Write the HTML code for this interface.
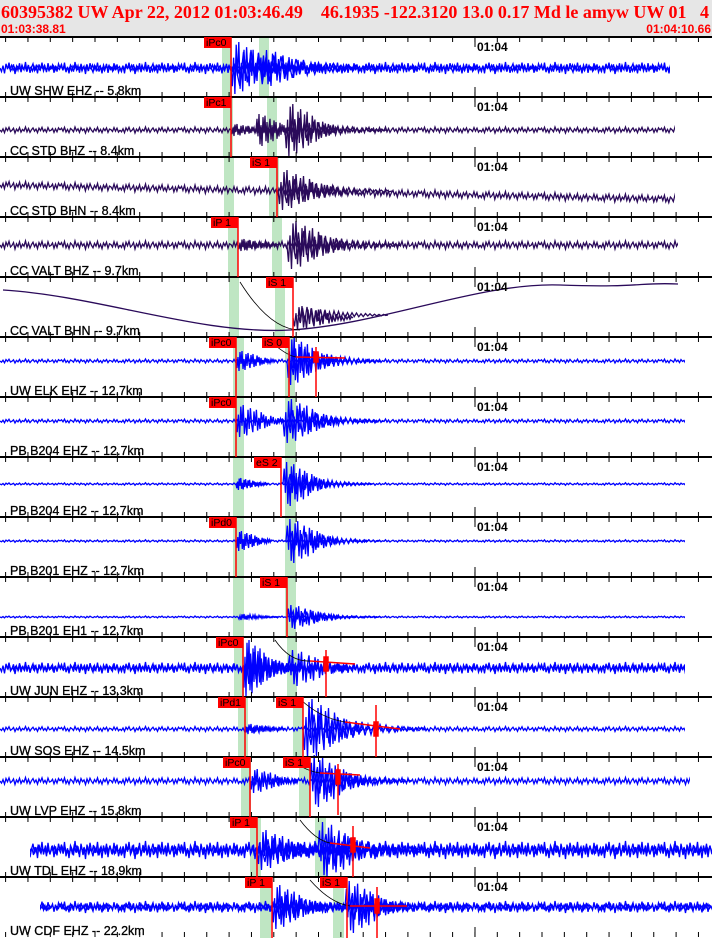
<!DOCTYPE html>
<html><head><meta charset="utf-8"><style>
html,body{margin:0;padding:0;background:#fff;}
body{width:712px;height:938px;overflow:hidden;}
svg{display:block;}
.t{font-family:"Liberation Sans",sans-serif;font-size:12px;font-weight:bold;}
.l{font-family:"Liberation Sans",sans-serif;font-size:12.5px;fill:#000;stroke:#000;stroke-width:0.3;}
.p{font-family:"Liberation Sans",sans-serif;font-size:10.5px;}
</style></head><body>
<svg width="712" height="938" xmlns="http://www.w3.org/2000/svg" xmlns:xlink="http://www.w3.org/1999/xlink">
<defs>
<path id="n" vector-effect="non-scaling-stroke" fill="none" d="M0,0 L1.5,.6 L3,-.4 L4.5,.9 L6,-.7 L7.5,.2 L9,-.9 L10.5,.5 L12,.1 L13.5,-.6 L15,1 L16.5,-.3 L18,.4 L19.5,-.8 L21,.7 L22.5,-.2 L24,.3 L25.5,-1 L27,.6 L28.5,-.5 L30,.8 L31.5,-.1 L33,-.7 L34.5,.4 L36,-.3 L37.5,.9 L39,-.6 L40.5,.2 L42,-.9 L43.5,.5 L45,-.2 L46.5,.7 L48,-.8 L49.5,.3 L51,.1 L52.5,-.5 L54,.8 L55.5,-.4 L57,.6 L58.5,-.7 L60,0"/>
<g id="row">
<use href="#n" xlink:href="#n"/>
<use href="#n" xlink:href="#n" transform="translate(60,0) scale(1,-1)"/>
<use href="#n" xlink:href="#n" transform="translate(120,0)"/>
<use href="#n" xlink:href="#n" transform="translate(180,0) scale(1,-1)"/>
<use href="#n" xlink:href="#n" transform="translate(240,0)"/>
<use href="#n" xlink:href="#n" transform="translate(300,0) scale(1,-1)"/>
<use href="#n" xlink:href="#n" transform="translate(360,0)"/>
<use href="#n" xlink:href="#n" transform="translate(420,0) scale(1,-1)"/>
<use href="#n" xlink:href="#n" transform="translate(480,0)"/>
<use href="#n" xlink:href="#n" transform="translate(540,0) scale(1,-1)"/>
<use href="#n" xlink:href="#n" transform="translate(600,0)"/>
<use href="#n" xlink:href="#n" transform="translate(660,0) scale(1,-1)"/>
</g>
<path id="b" vector-effect="non-scaling-stroke" fill="none" d="M0,0 L1.5,-1 L3,.9 L4.5,-.8 L6,1 L7.5,-.7 L9,.85 L10.5,-.9 L12,.6 L13.5,-.75 L15,.7 L16.5,-.5 L18,.65 L19.5,-.6 L21,.4 L22.5,-.55 L24,.5 L25.5,-.35 L27,.45 L28.5,-.4 L30,.3 L31.5,-.35 L33,.3 L34.5,-.25 L36,.28 L37.5,-.2 L39,.25 L40.5,-.22 L42,.15 L43.5,-.2 L45,.18 L46.5,-.12 L48,.15 L49.5,-.13 L51,.1 L52.5,-.12 L54,.08 L55.5,-.1 L57,.08 L58.5,-.06 L60,0"/>
<path id="c" vector-effect="non-scaling-stroke" fill="none" d="M0,0 L1,.7 L2,-.4 L3,1 L4,-.9 L5,.3 L6,-1 L7,.8 L8,-.2 L9,.9 L10,-.7 L11,.5 L12,-.8 L13,.2 L14,.7 L15,-.6 L16,.3 L17,-.7 L18,.6 L19,-.2 L20,.5 L21,-.55 L22,.1 L23,-.4 L24,.45 L25,-.3 L26,.35 L27,-.1 L28,.3 L29,-.32 L30,.15 L31,-.25 L32,.2 L33,-.05 L34,.22 L35,-.18 L36,.1 L37,-.15 L38,.12 L39,-.1 L40,0"/>
<g id="tk" stroke="#000" fill="none">
<line x1="5.1" y1="2.5" x2="712" y2="2.5" stroke-width="5" stroke-dasharray="1 21.35"/>
<line x1="5.1" y1="57.5" x2="712" y2="57.5" stroke-width="5" stroke-dasharray="1 21.35"/>
<line x1="475" y1="0" x2="475" y2="10"/>
<line x1="475" y1="50" x2="475" y2="60"/>
</g>
</defs>

<rect x="0" y="0" width="712" height="37" fill="#e6e6e6"/>
<text x="1" y="18" font-family="Liberation Serif, serif" font-weight="bold" font-size="18" fill="#ff0000" xml:space="preserve">60395382 UW Apr 22, 2012 01:03:46.49    46.1935 -122.3120 13.0 0.17 Md le amyw UW 01   4</text>
<text x="1" y="33" class="t" fill="#ff0000">01:03:38.81</text>
<text x="711" y="33" class="t" fill="#ff0000" text-anchor="end">01:04:10.66</text>

<g fill="#bfe6c3">
<rect x="222" y="37" width="10" height="60"/><rect x="259" y="37" width="10" height="60"/>
<rect x="223" y="97" width="10" height="60"/><rect x="267" y="97" width="10" height="60"/>
<rect x="224" y="157" width="10" height="60"/><rect x="269" y="157" width="10" height="60"/>
<rect x="228" y="217" width="10" height="60"/><rect x="272" y="217" width="10" height="60"/>
<rect x="229" y="277" width="10" height="60"/><rect x="275" y="277" width="10" height="60"/>
<rect x="233" y="337" width="11" height="60"/><rect x="285" y="337" width="10" height="60"/>
<rect x="233" y="397" width="11" height="60"/><rect x="285" y="397" width="11" height="60"/>
<rect x="233" y="457" width="11" height="60"/><rect x="285" y="457" width="11" height="60"/>
<rect x="233" y="517" width="11" height="60"/><rect x="285" y="517" width="11" height="60"/>
<rect x="233" y="577" width="11" height="60"/><rect x="285" y="577" width="11" height="60"/>
<rect x="234" y="637" width="10" height="60"/><rect x="287" y="637" width="10" height="60"/>
<rect x="238" y="697" width="10" height="60"/><rect x="293" y="697" width="10" height="60"/>
<rect x="241" y="757" width="10" height="60"/><rect x="299" y="757" width="11" height="60"/>
<rect x="250" y="817" width="11" height="60"/><rect x="315" y="817" width="11" height="60"/>
<rect x="260" y="877" width="11" height="61"/><rect x="333" y="877" width="11" height="61"/>
</g>

<g stroke-width="1.3">
<g transform="translate(0,68)" stroke="#0000ff"><use href="#row" xlink:href="#row" transform="scale(1,6)"/><use href="#row" xlink:href="#row" transform="translate(7,0) scale(1,-3)"/><use href="#c" xlink:href="#c" transform="translate(231,0) scale(1.3,26)"/><use href="#b" xlink:href="#b" transform="translate(236,0) scale(2.5,-18)"/><use href="#c" xlink:href="#c" transform="translate(262,0) scale(1.5,-18)"/></g>
<g transform="translate(0,130)" stroke="#2a0a5a"><use href="#row" xlink:href="#row" transform="scale(1,3)"/><use href="#c" xlink:href="#c" transform="translate(231,0) scale(1,6)"/><use href="#c" xlink:href="#c" transform="translate(256,0) scale(1,-16)"/><use href="#c" xlink:href="#c" transform="translate(285,0) scale(1.3,26)"/><use href="#b" xlink:href="#b" transform="translate(290,0) scale(1.6,-12)"/></g>
<g transform="translate(0,185)" stroke="#2a0a5a"><use href="#row" xlink:href="#row" transform="rotate(1.2) scale(1,4)"/><use href="#c" xlink:href="#c" transform="translate(278,5) scale(1.5,20)"/><use href="#b" xlink:href="#b" transform="translate(284,6) scale(1.8,-12)"/></g>
<g transform="translate(0,245)" stroke="#2a0a5a"><use href="#row" xlink:href="#row" transform="scale(1,4)"/><use href="#c" xlink:href="#c" transform="translate(238,0) scale(1,6)"/><use href="#c" xlink:href="#c" transform="translate(287,0) scale(1.5,24)"/><use href="#b" xlink:href="#b" transform="translate(293,0) scale(1.8,-14)"/></g>
<path d="M3,290 C100,296 200,335 290,330 S480,282 560,285 S640,282 678,284" fill="none" stroke="#2a0a5a" stroke-width="1.3"/>
<g transform="translate(0,318)" stroke="#2a0a5a"><use href="#c" xlink:href="#c" transform="translate(293,0) scale(1.5,12)"/><use href="#b" xlink:href="#b" transform="translate(298,-3) scale(1.5,-8)"/></g>
<g transform="translate(0,361)" stroke="#0000ff"><use href="#row" xlink:href="#row" transform="scale(1,2)"/><use href="#c" xlink:href="#c" transform="translate(236,0) scale(1,10)"/><use href="#c" xlink:href="#c" transform="translate(287,0) scale(1.2,24)"/><use href="#b" xlink:href="#b" transform="translate(291,0) scale(1.5,-14)"/></g>
<g transform="translate(0,421)" stroke="#0000ff"><use href="#row" xlink:href="#row" transform="scale(1,2)"/><use href="#c" xlink:href="#c" transform="translate(236,0) scale(1.2,16)"/><use href="#c" xlink:href="#c" transform="translate(283,0) scale(1.4,22)"/><use href="#b" xlink:href="#b" transform="translate(288,0) scale(1.6,-12)"/></g>
<g transform="translate(0,484)" stroke="#0000ff"><use href="#row" xlink:href="#row" transform="scale(1,1.2)"/><use href="#c" xlink:href="#c" transform="translate(236,0) scale(0.8,6)"/><use href="#c" xlink:href="#c" transform="translate(283,0) scale(1.2,-22)"/><use href="#b" xlink:href="#b" transform="translate(288,0) scale(1.4,10)"/></g>
<g transform="translate(0,541)" stroke="#0000ff"><use href="#row" xlink:href="#row" transform="scale(1,1.2)"/><use href="#c" xlink:href="#c" transform="translate(236,0) scale(0.9,10)"/><use href="#c" xlink:href="#c" transform="translate(286,0) scale(1.3,-22)"/><use href="#b" xlink:href="#b" transform="translate(290,0) scale(1.5,10)"/></g>
<g transform="translate(0,617)" stroke="#0000ff"><use href="#row" xlink:href="#row" transform="scale(1,1)"/><use href="#c" xlink:href="#c" transform="translate(238,0) scale(1,3)"/><use href="#c" xlink:href="#c" transform="translate(287,0) scale(1.3,-12)"/><use href="#b" xlink:href="#b" transform="translate(291,0) scale(1.5,6)"/></g>
<g transform="translate(0,668)" stroke="#0000ff"><use href="#row" xlink:href="#row" transform="scale(1,6)"/><use href="#row" xlink:href="#row" transform="translate(5,0) scale(1,-3)"/><use href="#c" xlink:href="#c" transform="translate(243,0) scale(1,28)"/><use href="#b" xlink:href="#b" transform="translate(247,0) scale(1.2,-16)"/><use href="#c" xlink:href="#c" transform="translate(288,0) scale(1.5,-18)"/></g>
<g transform="translate(0,729)" stroke="#0000ff"><use href="#row" xlink:href="#row" transform="scale(1,2.5)"/><use href="#c" xlink:href="#c" transform="translate(245,0) scale(1,5)"/><use href="#c" xlink:href="#c" transform="translate(303,0) scale(1.5,30)"/><use href="#b" xlink:href="#b" transform="translate(308,0) scale(2,-16)"/></g>
<g transform="translate(0,781)" stroke="#0000ff"><use href="#row" xlink:href="#row" transform="scale(1,3.5)"/><use href="#c" xlink:href="#c" transform="translate(250,0) scale(1.2,12)"/><use href="#c" xlink:href="#c" transform="translate(310,0) scale(1.4,-26)"/><use href="#b" xlink:href="#b" transform="translate(315,0) scale(1.6,14)"/></g>
<g transform="translate(0,850)" stroke="#0000ff"><use href="#row" xlink:href="#row" transform="scale(1,9)"/><use href="#row" xlink:href="#row" transform="translate(8,0) scale(1,-5)"/><use href="#c" xlink:href="#c" transform="translate(257,0) scale(1.5,20)"/><use href="#b" xlink:href="#b" transform="translate(262,0) scale(2,-12)"/><use href="#c" xlink:href="#c" transform="translate(318,0) scale(1.5,-28)"/><use href="#b" xlink:href="#b" transform="translate(323,0) scale(2,16)"/></g>
<g transform="translate(0,907)" stroke="#0000ff"><use href="#row" xlink:href="#row" transform="scale(1,6)"/><use href="#row" xlink:href="#row" transform="translate(6,0) scale(1,-3)"/><use href="#c" xlink:href="#c" transform="translate(272,0) scale(1.3,22)"/><use href="#b" xlink:href="#b" transform="translate(277,0) scale(1.6,-12)"/><use href="#c" xlink:href="#c" transform="translate(345,0) scale(1.4,-26)"/><use href="#b" xlink:href="#b" transform="translate(350,0) scale(1.6,14)"/></g>
</g>

<g fill="#fff">
<rect x="670" y="43" width="42" height="49"/>
<rect x="675" y="103" width="37" height="49"/>
<rect x="675" y="163" width="37" height="49"/>
<rect x="678" y="223" width="34" height="49"/>
<rect x="685" y="343" width="27" height="49"/>
<rect x="685" y="403" width="27" height="49"/>
<rect x="685" y="463" width="27" height="49"/>
<rect x="685" y="523" width="27" height="49"/>
<rect x="685" y="583" width="27" height="49"/>
<rect x="685" y="643" width="27" height="49"/>
<rect x="685" y="703" width="27" height="49"/>
<rect x="690" y="763" width="22" height="49"/>
<rect x="0" y="823" width="30" height="40"/>
<rect x="0" y="883" width="40" height="40"/>
</g>

<use href="#tk" xlink:href="#tk" y="37"/><use href="#tk" xlink:href="#tk" y="97"/><use href="#tk" xlink:href="#tk" y="157"/><use href="#tk" xlink:href="#tk" y="217"/><use href="#tk" xlink:href="#tk" y="277"/>
<use href="#tk" xlink:href="#tk" y="337"/><use href="#tk" xlink:href="#tk" y="397"/><use href="#tk" xlink:href="#tk" y="457"/><use href="#tk" xlink:href="#tk" y="517"/><use href="#tk" xlink:href="#tk" y="577"/>
<use href="#tk" xlink:href="#tk" y="637"/><use href="#tk" xlink:href="#tk" y="697"/><use href="#tk" xlink:href="#tk" y="757"/><use href="#tk" xlink:href="#tk" y="817"/><use href="#tk" xlink:href="#tk" y="877"/>
<g stroke="#000" stroke-width="2">
<line x1="0" y1="37" x2="712" y2="37"/><line x1="0" y1="97" x2="712" y2="97"/><line x1="0" y1="157" x2="712" y2="157"/><line x1="0" y1="217" x2="712" y2="217"/><line x1="0" y1="277" x2="712" y2="277"/>
<line x1="0" y1="337" x2="712" y2="337"/><line x1="0" y1="397" x2="712" y2="397"/><line x1="0" y1="457" x2="712" y2="457"/><line x1="0" y1="517" x2="712" y2="517"/><line x1="0" y1="577" x2="712" y2="577"/>
<line x1="0" y1="637" x2="712" y2="637"/><line x1="0" y1="697" x2="712" y2="697"/><line x1="0" y1="757" x2="712" y2="757"/><line x1="0" y1="817" x2="712" y2="817"/><line x1="0" y1="877" x2="712" y2="877"/>
</g>
<g class="t">
<text x="477" y="51">01:04</text><text x="477" y="111">01:04</text><text x="477" y="171">01:04</text><text x="477" y="231">01:04</text><text x="477" y="291">01:04</text>
<text x="477" y="351">01:04</text><text x="477" y="411">01:04</text><text x="477" y="471">01:04</text><text x="477" y="531">01:04</text><text x="477" y="591">01:04</text>
<text x="477" y="651">01:04</text><text x="477" y="711">01:04</text><text x="477" y="771">01:04</text><text x="477" y="831">01:04</text><text x="477" y="891">01:04</text>
</g>
<g class="l">
<text x="10" y="95">UW SHW EHZ -- 5.8km</text>
<text x="10" y="155">CC STD BHZ -- 8.4km</text>
<text x="10" y="215">CC STD BHN -- 8.4km</text>
<text x="10" y="275">CC VALT BHZ -- 9.7km</text>
<text x="10" y="335">CC VALT BHN -- 9.7km</text>
<text x="10" y="395">UW ELK EHZ -- 12.7km</text>
<text x="10" y="455">PB B204 EHZ -- 12.7km</text>
<text x="10" y="515">PB B204 EH2 -- 12.7km</text>
<text x="10" y="575">PB B201 EHZ -- 12.7km</text>
<text x="10" y="635">PB B201 EH1 -- 12.7km</text>
<text x="10" y="695">UW JUN EHZ -- 13.3km</text>
<text x="10" y="755">UW SOS EHZ -- 14.5km</text>
<text x="10" y="815">UW LVP EHZ -- 15.8km</text>
<text x="10" y="875">UW TDL EHZ -- 18.9km</text>
<text x="10" y="935">UW CDF EHZ -- 22.2km</text>
</g>

<g fill="none" stroke="#000" stroke-width="0.8">
<path d="M240,282 Q270,330 300,330"/>
<path d="M268,339 Q285,355 296,357"/>
<path d="M275,640 Q290,662 310,661"/>
<path d="M300,699 Q320,718 345,722"/>
<path d="M290,759 Q305,771 320,773"/>
<path d="M300,820 Q315,840 330,843"/>
<path d="M310,880 Q330,903 350,906"/>
</g>
<g stroke="#ff0000" stroke-width="1.5" fill="#ff0000">
<line x1="296" y1="357" x2="345" y2="358"/><line x1="316" y1="347" x2="316" y2="397"/><rect x="314" y="352" width="4" height="10"/>
<line x1="310" y1="661" x2="355" y2="664"/><line x1="326" y1="650" x2="326" y2="697"/><rect x="324" y="657" width="4" height="14"/>
<line x1="345" y1="722" x2="400" y2="729"/><line x1="376" y1="705" x2="376" y2="757"/><rect x="374" y="722" width="4" height="14"/>
<line x1="320" y1="773" x2="360" y2="775"/><line x1="338" y1="764" x2="338" y2="815"/><rect x="336" y="770" width="4" height="14"/>
<line x1="330" y1="843" x2="370" y2="848"/><line x1="353" y1="826" x2="353" y2="877"/><rect x="351" y="838" width="4" height="14"/>
<line x1="350" y1="906" x2="407" y2="906"/><line x1="377" y1="887" x2="377" y2="938"/><rect x="375" y="899" width="4" height="14"/>
</g>

<g stroke="#ff0000" stroke-width="1.5">
<line x1="231" y1="37" x2="231" y2="97"/><line x1="231" y1="97" x2="231" y2="157"/><line x1="277" y1="157" x2="277" y2="217"/><line x1="238" y1="217" x2="238" y2="277"/><line x1="293" y1="277" x2="293" y2="337"/>
<line x1="236" y1="337" x2="236" y2="397"/><line x1="289" y1="337" x2="289" y2="397"/><line x1="236" y1="397" x2="236" y2="457"/><line x1="281" y1="457" x2="281" y2="517"/><line x1="236" y1="517" x2="236" y2="577"/><line x1="287" y1="577" x2="287" y2="637"/>
<line x1="243" y1="637" x2="243" y2="697"/><line x1="245" y1="697" x2="245" y2="757"/><line x1="303" y1="697" x2="303" y2="757"/><line x1="250" y1="757" x2="250" y2="817"/><line x1="310" y1="757" x2="310" y2="817"/>
<line x1="257" y1="817" x2="257" y2="877"/><line x1="272" y1="877" x2="272" y2="938"/><line x1="347" y1="877" x2="347" y2="938"/>
</g>
<g fill="#ff0000">
<rect x="204" y="37" width="27" height="11"/><rect x="204" y="97" width="27" height="11"/><rect x="250" y="157" width="27" height="11"/><rect x="211" y="217" width="27" height="11"/><rect x="266" y="277" width="27" height="11"/>
<rect x="209" y="337" width="27" height="11"/><rect x="262" y="337" width="27" height="11"/><rect x="209" y="397" width="27" height="11"/><rect x="254" y="457" width="27" height="11"/><rect x="209" y="517" width="27" height="11"/><rect x="260" y="577" width="27" height="11"/>
<rect x="216" y="637" width="27" height="11"/><rect x="218" y="697" width="27" height="11"/><rect x="276" y="697" width="27" height="11"/><rect x="223" y="757" width="27" height="11"/><rect x="283" y="757" width="27" height="11"/>
<rect x="230" y="817" width="27" height="11"/><rect x="245" y="877" width="27" height="11"/><rect x="320" y="877" width="27" height="11"/>
</g>
<g class="p">
<text x="206" y="46">iPc0</text><text x="206" y="106">iPc1</text><text x="252" y="166">iS 1</text><text x="213" y="226">iP 1</text><text x="268" y="286">iS 1</text>
<text x="211" y="346">iPc0</text><text x="264" y="346">iS 0</text><text x="211" y="406">iPc0</text><text x="256" y="466">eS 2</text><text x="211" y="526">iPd0</text><text x="262" y="586">iS 1</text>
<text x="218" y="646">iPc0</text><text x="220" y="706">iPd1</text><text x="278" y="706">iS 1</text><text x="225" y="766">iPc0</text><text x="285" y="766">iS 1</text>
<text x="232" y="826">iP 1</text><text x="247" y="886">iP 1</text><text x="322" y="886">iS 1</text>
</g>
</svg>
</body></html>
